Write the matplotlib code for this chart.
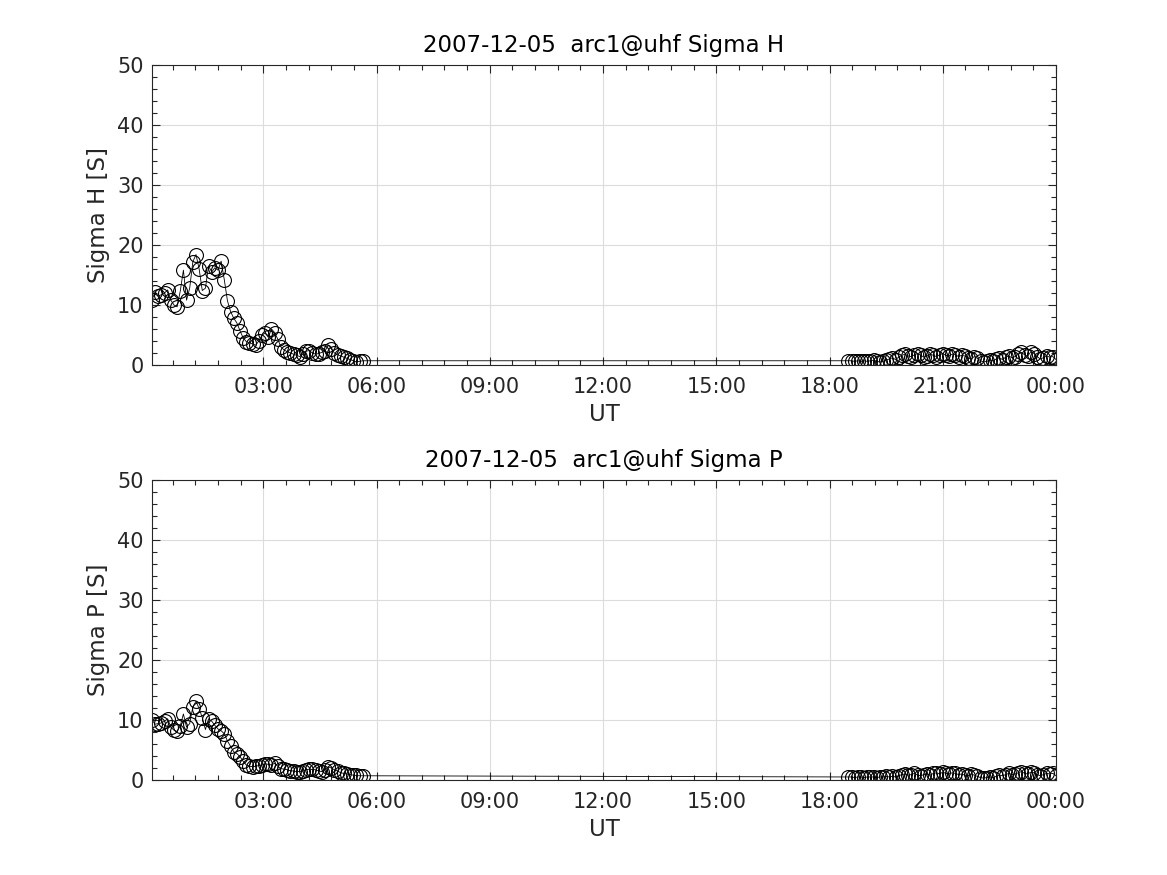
import matplotlib
matplotlib.use("Agg")
import matplotlib.pyplot as plt
from matplotlib.ticker import MultipleLocator, FixedLocator
import numpy as np

# 5-minute samples, two passes of data (hours UT)
step_min = 5
start_1 = 0.05    # first pass begins ~00:03
start_2 = 18.5    # second pass begins 18:30

sigma_h_1 = [10.8, 12.2, 11.5, 11.7, 12.0, 12.5, 10.8, 10.0, 9.7, 12.3,
             15.8, 10.8, 12.8, 17.2, 18.4, 16.0, 12.4, 12.8, 16.5, 15.5,
             16.2, 15.8, 17.3, 14.2, 10.7, 8.9, 7.8, 7.0, 5.7, 4.5,
             3.9, 3.7, 3.5, 3.3, 4.0, 5.0, 5.3, 4.6, 6.0, 5.4,
             4.3, 3.0, 2.5, 2.2, 2.0, 1.8, 1.6, 1.4, 1.8, 2.3,
             2.4, 2.0, 1.8, 1.9, 2.1, 2.3, 3.3, 2.7, 2.0, 1.7,
             1.5, 1.3, 1.1, 0.9, 0.7, 0.5, 0.6, 0.7]
sigma_h_2 = [0.7, 0.7, 0.6, 0.7, 0.6, 0.7, 0.6, 0.7, 0.8, 0.6, 0.5,
             0.6, 0.8, 1.0, 1.2, 0.9, 1.3, 1.6,
             1.8, 1.5, 1.4, 1.7, 1.9, 1.6, 1.3, 1.5, 1.8, 1.6, 1.4, 1.7,
             1.9, 1.6, 1.5, 1.8, 1.7, 1.4, 1.6, 1.5, 1.2, 1.0, 1.4, 1.1,
             0.7, 0.5, 0.6, 0.8, 0.7, 1.0, 1.2, 0.9, 1.3, 1.5, 1.2, 1.4,
             1.8, 2.1, 1.7, 1.5, 2.2, 1.9, 1.4, 1.0, 1.2, 1.5, 1.3, 1.4,
             0.9]

sigma_p_1 = [10.0, 9.3, 9.4, 9.5, 9.8, 10.2, 8.8, 8.3, 8.1, 9.0,
             11.0, 8.8, 9.4, 12.2, 13.1, 11.9, 10.4, 8.4, 10.2, 9.8,
             9.1, 8.5, 8.2, 7.7, 6.5, 5.6, 4.7, 4.4, 3.9, 3.1,
             2.5, 2.3, 2.2, 2.3, 2.4, 2.5, 2.7, 2.6, 2.5, 2.8,
             2.3, 1.9, 1.8, 1.7, 1.55, 1.5, 1.4, 1.4, 1.5, 1.7,
             1.8, 1.75, 1.7, 1.5, 1.4, 1.7, 2.2, 2.0, 1.7, 1.5,
             1.2, 1.1, 1.0, 0.9, 0.8, 0.75, 0.7, 0.7]
sigma_p_2 = [0.5, 0.5, 0.4, 0.5, 0.5, 0.4, 0.5, 0.5, 0.5, 0.4, 0.5,
             0.5, 0.6, 0.5, 0.6, 0.5, 0.7, 0.9,
             1.0, 0.8, 0.9, 1.1, 0.8, 0.7, 0.9, 1.0, 0.8, 1.1, 1.2, 1.0,
             1.3, 1.1, 1.0, 1.2, 1.1, 0.9, 1.0, 0.8, 0.7, 1.0, 0.8, 0.6,
             0.4, 0.3, 0.4, 0.5, 0.4, 0.6, 0.8, 0.7, 0.9, 1.1, 0.9, 1.0,
             1.2, 1.4, 1.1, 1.0, 1.3, 1.2, 0.9, 0.7, 0.9, 1.1, 1.0, 1.1,
             0.7]

xtick_hours = [3, 6, 9, 12, 15, 18, 21, 24]
xtick_labels = ["03:00", "06:00", "09:00", "12:00", "15:00", "18:00", "21:00", "00:00"]

panels = [
    ("2007-12-05  arc1@uhf Sigma H", "Sigma H [S]", sigma_h_1, sigma_h_2),
    ("2007-12-05  arc1@uhf Sigma P", "Sigma P [S]", sigma_p_1, sigma_p_2),
]

txt = "#262626"
plt.rcParams["font.family"] = "DejaVu Sans"

fig = plt.figure(figsize=(11.67, 8.75), dpi=100)
rects = [[0.1302, 0.5829, 0.7747, 0.3429], [0.1302, 0.1086, 0.7747, 0.3429]]

for rect, (title, ylab, v1, v2) in zip(rects, panels):
    t1 = start_1 + np.arange(len(v1)) * step_min / 60
    t2 = start_2 + np.arange(len(v2)) * step_min / 60
    t = np.concatenate([t1, t2])
    v = np.concatenate([v1, v2])

    ax = fig.add_axes(rect)
    ax.plot(t, v, color="black", lw=0.6, marker="o", ms=10,
            mfc="none", mec="black", mew=0.8)
    ax.set_xlim(t[0], t[-1])
    ax.set_ylim(0, 50)
    ax.xaxis.set_major_locator(FixedLocator(xtick_hours))
    ax.set_xticklabels(xtick_labels)
    ax.xaxis.set_minor_locator(MultipleLocator(0.6))
    ax.yaxis.set_major_locator(MultipleLocator(10))
    ax.yaxis.set_minor_locator(MultipleLocator(2))
    ax.grid(True, which="major", color="#dcdcdc", lw=0.8)
    ax.set_axisbelow(True)
    ax.tick_params(which="both", direction="in", top=True, right=True,
                   colors=txt, labelsize=15)
    ax.tick_params(axis="x", which="major", pad=9)
    ax.tick_params(axis="y", which="major", pad=6)
    ax.tick_params(which="major", length=6, width=0.8)
    ax.tick_params(which="minor", length=3.5, width=0.8)
    for s in ax.spines.values():
        s.set_color(txt)
        s.set_linewidth(0.8)
    ax.set_title(title, fontsize=16.5, color="black", pad=9)
    ax.set_xlabel("UT", fontsize=16.5, color=txt, labelpad=4)
    ax.set_ylabel(ylab, fontsize=16.5, color=txt, labelpad=5)

fig.savefig("out.png", dpi=100)
